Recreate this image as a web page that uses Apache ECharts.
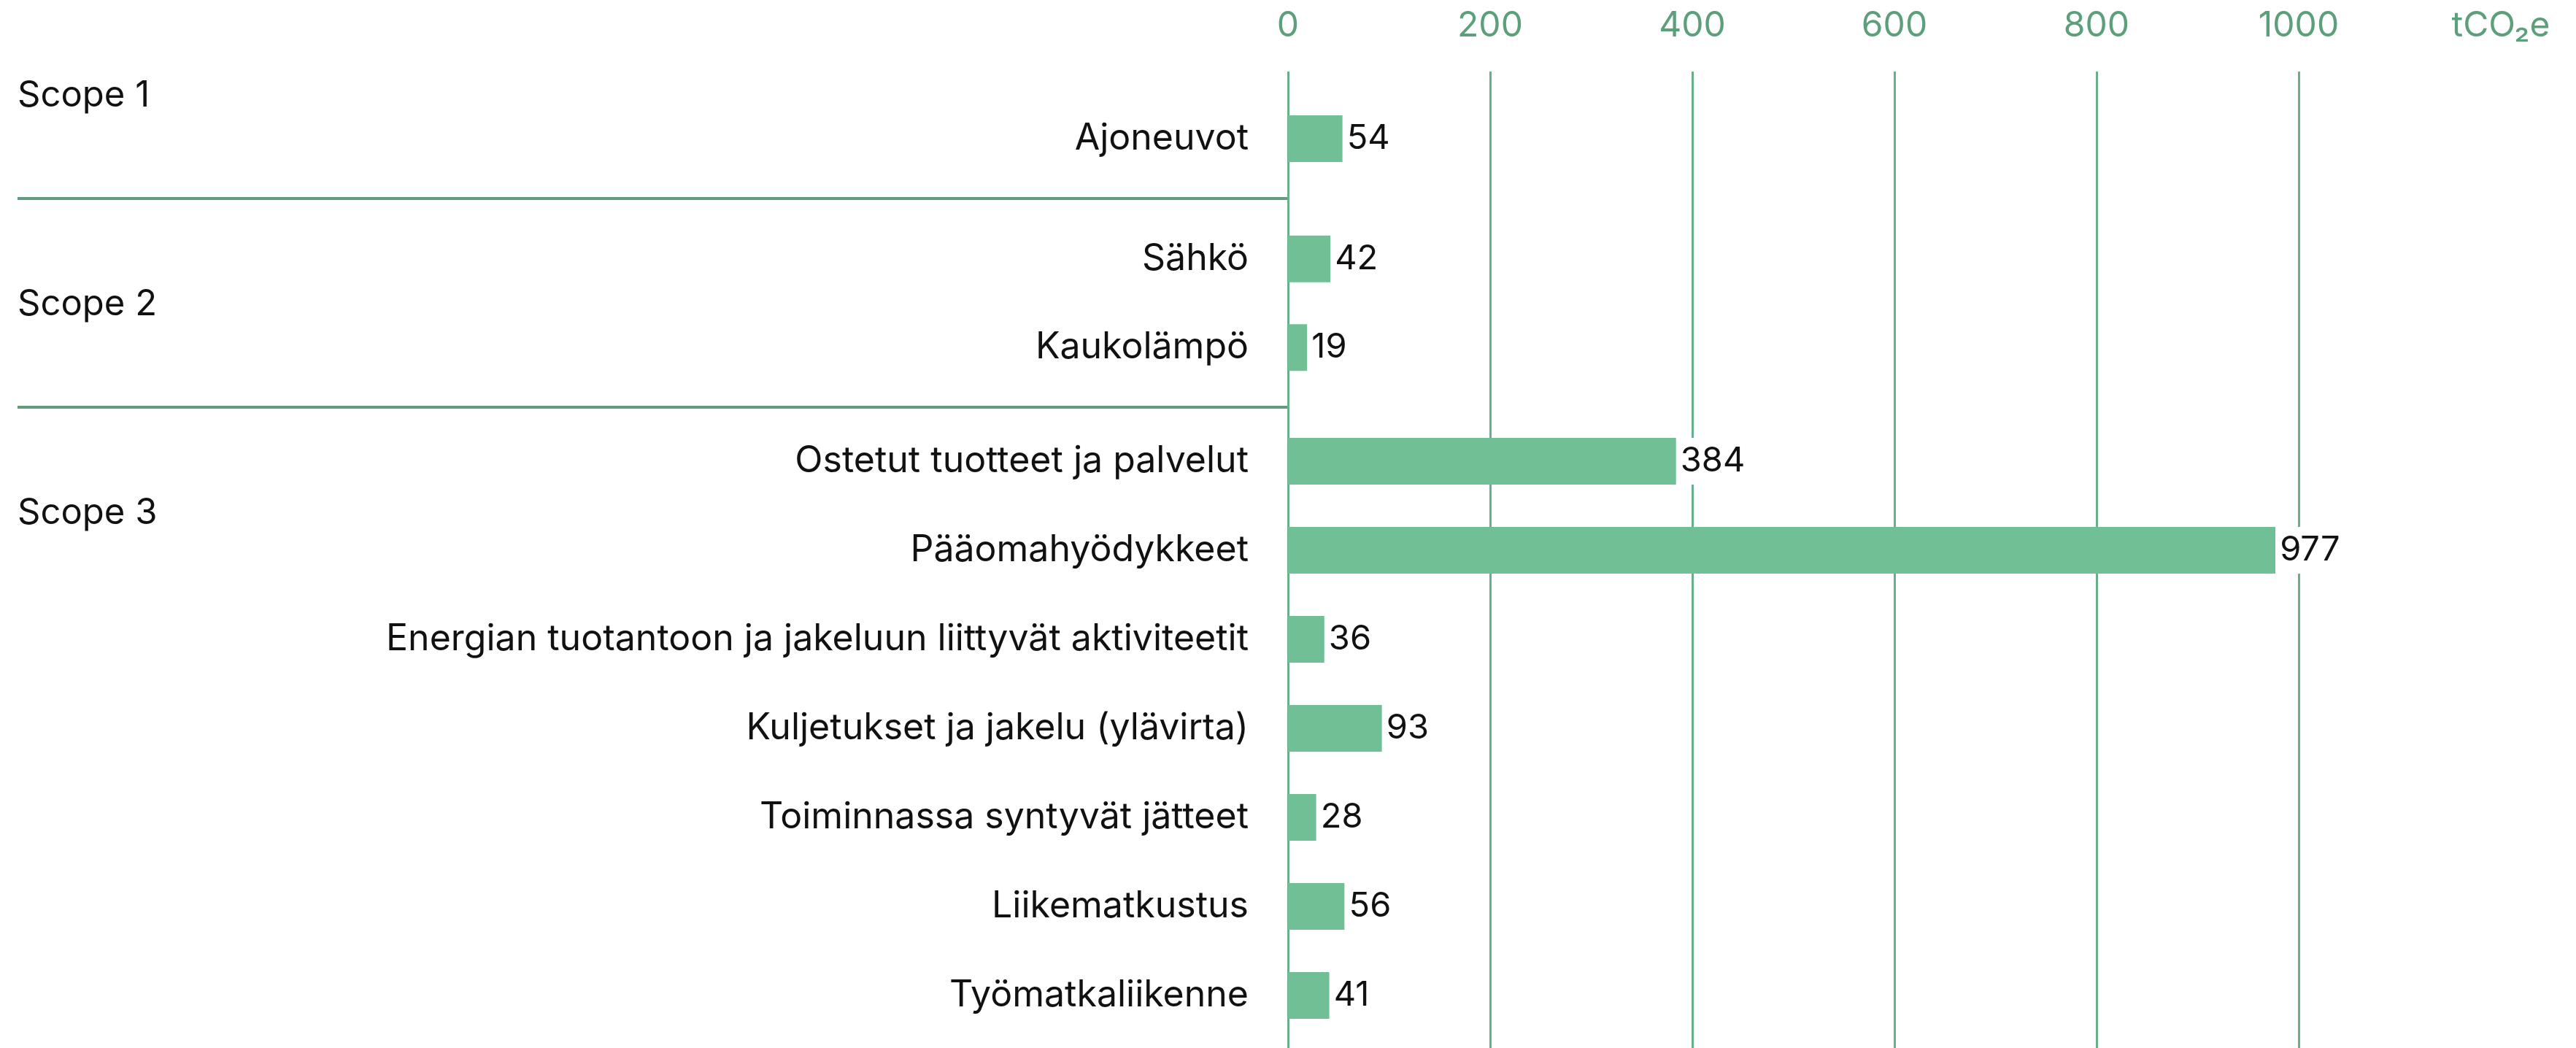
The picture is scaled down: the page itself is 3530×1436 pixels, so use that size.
<!DOCTYPE html>
<html>
<head>
<meta charset="utf-8">
<script src="https://cdn.jsdelivr.net/npm/echarts@6/dist/echarts.min.js"></script>
<style>
  html, body { margin: 0; padding: 0; background: #fff; }
  #chart { width: 3530px; height: 1436px; }
</style>
</head>
<body>
<div id="chart"></div>
<script>
// data
const scopeNames = ['Scope 1', 'Scope 2', 'Scope 3']
const scope1Labels = ['Ajoneuvot']
const scope1Values = [54]
const scope2Labels = ['Sähkö', 'Kaukolämpö']
const scope2Values = [42, 19]
const scope3Labels = [
  'Ostetut tuotteet ja palvelut',
  'Pääomahyödykkeet',
  'Energian tuotantoon ja jakeluun liittyvät aktiviteetit',
  'Kuljetukset ja jakelu (ylävirta)',
  'Toiminnassa syntyvät jätteet',
  'Liikematkustus',
  'Työmatkaliikenne',
]
const scope3Values = [384, 977, 36, 93, 28, 56, 41]
const axisTicks = [0, 200, 400, 600, 800, 1000]
const unitLabel = 'tCO₂e'

const FONT = 'Inter'
const GREEN = '#70bf95'
const LINE = '#6aaf8b'
const left = 1765
const right = 103
const axisMax = 1200

// group layout: top / height of each bar grid
const groups = [
  { labels: scope1Labels, values: scope1Values, top: 129, height: 122 },
  { labels: scope2Labels, values: scope2Values, top: 294, height: 243 },
  { labels: scope3Labels, values: scope3Values, top: 571, height: 854 },
]

const chart = echarts.init(document.getElementById('chart'))

const grid = [{ left, right, top: 98, bottom: 0 }]
const xAxis = [{
  gridIndex: 0,
  type: 'value',
  position: 'top',
  min: 0,
  max: axisMax,
  interval: 200,
  axisLine: { show: false },
  axisTick: { show: false },
  axisLabel: {
    color: '#5c9f7b',
    fontFamily: FONT,
    fontSize: 48,
    margin: 38,
    formatter: (v) => (v === axisMax ? unitLabel : (axisTicks.includes(v) ? String(v) : '')),
  },
  splitLine: {
    show: true,
    showMaxLine: false,
    lineStyle: { color: LINE, width: 3 },
  },
}]
const yAxis = [{ gridIndex: 0, type: 'value', show: false }]
const series = []

groups.forEach((g, i) => {
  const gi = i + 1
  grid.push({ left, right, top: g.top, height: g.height })
  xAxis.push({ gridIndex: gi, type: 'value', min: 0, max: axisMax, show: false })
  yAxis.push({
    gridIndex: gi,
    type: 'category',
    inverse: true,
    data: g.labels,
    axisLine: { show: false },
    axisTick: { show: false },
    axisLabel: {
      color: '#111',
      fontFamily: FONT,
      fontSize: 50,
      margin: 54,
    },
  })
  series.push({
    type: 'bar',
    xAxisIndex: gi,
    yAxisIndex: gi,
    data: g.values,
    barWidth: 64,
    itemStyle: { color: GREEN },
    label: {
      show: true,
      position: 'right',
      distance: 0,
      color: '#111',
      fontFamily: FONT,
      fontSize: 47,
      backgroundColor: '#fff',
      padding: [0, 10, 0, 6],
      lineHeight: 64,
    },
  })
})

const scopeY = [131, 417, 703]
const graphic = [
  ...scopeNames.map((name, i) => ({
    type: 'text',
    x: 24,
    y: scopeY[i],
    style: { text: name, fill: '#111', font: `49px ${FONT}`, verticalAlign: 'middle' },
  })),
  ...[272, 558].map((y) => ({
    type: 'line',
    shape: { x1: 24, y1: y, x2: left, y2: y },
    style: { stroke: '#5e9e7e', lineWidth: 4 },
  })),
]

chart.setOption({
  animation: false,
  grid,
  xAxis,
  yAxis,
  series,
  graphic,
})
</script>
</body>
</html>
